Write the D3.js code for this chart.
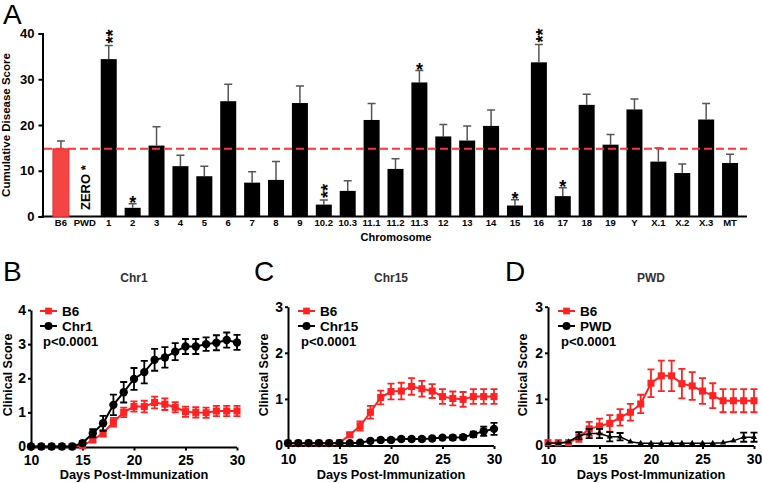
<!DOCTYPE html>
<html>
<head>
<meta charset="utf-8">
<script src="https://cdn.jsdelivr.net/npm/d3@7"></script>
<style>
  body { margin: 0; background: #fff; }
  svg { font-family: "Liberation Sans", Arial, sans-serif; }
  .tick text { font-weight: bold; }
</style>
</head>
<body>
<div id="viz"></div>
<script>
// Panel A data
const chromosomes = ['B6', 'PWD', '1', '2', '3', '4', '5', '6', '7', '8', '9', '10.2', '10.3', '11.1', '11.2',
  '11.3', '12', '13', '14', '15', '16', '17', '18', '19', 'Y', 'X.1', 'X.2', 'X.3', 'MT'];
const cumScore = [14.8, 0, 34.4, 1.9, 15.5, 11.0, 8.8, 25.2, 7.4, 8.0, 24.8, 2.6, 5.6, 21.1, 10.4,
  29.3, 17.5, 16.6, 19.8, 2.4, 33.7, 4.45, 24.4, 15.7, 23.4, 12.0, 9.5, 21.2, 11.7];
const cumSem = [1.7, 0, 3.0, 0.9, 4.1, 2.4, 2.2, 3.7, 2.4, 4.0, 3.7, 1.0, 2.2, 3.6, 2.2,
  2.6, 2.6, 3.2, 3.5, 1.25, 3.9, 1.85, 2.3, 2.2, 2.3, 3.0, 2.0, 3.5, 1.9];
const signif = ['', '', '**', '*', '', '', '', '', '', '', '', '**', '', '', '',
  '*', '', '', '', '*', '**', '*', '', '', '', '', '', '', ''];
const scoreTicks = [0, 10, 20, 30, 40];

// Panels B-D data
const days = [10, 11, 12, 13, 14, 15, 16, 17, 18, 19, 20, 21, 22, 23, 24, 25, 26, 27, 28, 29, 30];
const dayTicks = [10, 15, 20, 25, 30];

const b6B = [0, 0, 0, 0, 0, 0.02, 0.19, 0.39, 0.71, 1.0, 1.17, 1.17, 1.29, 1.24, 1.15, 1.02, 1.0, 0.99, 1.04, 1.04, 1.04];
const b6BErr = [0, 0, 0, 0, 0, 0, 0.06, 0.1, 0.13, 0.14, 0.15, 0.17, 0.17, 0.17, 0.15, 0.15, 0.15, 0.15, 0.15, 0.15, 0.15];
const chr1 = [0, 0, 0, 0, 0, 0.1, 0.39, 0.68, 1.22, 1.59, 1.98, 2.18, 2.54, 2.61, 2.78, 2.93, 2.93, 3.0, 3.04, 3.12, 3.05];
const chr1Err = [0, 0, 0, 0, 0, 0.05, 0.12, 0.22, 0.3, 0.3, 0.32, 0.33, 0.32, 0.3, 0.25, 0.22, 0.22, 0.2, 0.22, 0.22, 0.22];

const b6C = [0.04, 0.04, 0.04, 0.04, 0.04, 0.05, 0.22, 0.41, 0.71, 1.03, 1.16, 1.17, 1.27, 1.22, 1.17, 1.05, 1.01, 0.99, 1.05, 1.05, 1.05];
const b6CErr = [0, 0, 0, 0, 0, 0, 0.05, 0.1, 0.14, 0.15, 0.17, 0.18, 0.18, 0.17, 0.15, 0.16, 0.15, 0.16, 0.16, 0.16, 0.16];
const chr15 = [0.04, 0.04, 0.04, 0.04, 0.04, 0.04, 0.04, 0.05, 0.09, 0.11, 0.11, 0.13, 0.13, 0.13, 0.14, 0.16, 0.16, 0.17, 0.23, 0.3, 0.35];
const chr15Err = [0, 0, 0, 0, 0, 0, 0, 0.02, 0.03, 0.04, 0.04, 0.04, 0.04, 0.04, 0.04, 0.04, 0.05, 0.05, 0.06, 0.1, 0.13];

const b6D = [0.05, 0.05, 0.05, 0.17, 0.35, 0.41, 0.47, 0.6, 0.71, 0.89, 1.34, 1.5, 1.5, 1.33, 1.28, 1.17, 1.07, 0.96, 0.96, 0.96, 0.96];
const b6DErr = [0, 0, 0, 0.1, 0.15, 0.16, 0.18, 0.18, 0.18, 0.2, 0.3, 0.33, 0.33, 0.32, 0.3, 0.28, 0.27, 0.25, 0.25, 0.25, 0.25];
const pwd = [0.04, 0.04, 0.07, 0.2, 0.25, 0.25, 0.18, 0.18, 0.07, 0.04, 0.04, 0.04, 0.04, 0.04, 0.04, 0.04, 0.04, 0.05, 0.09, 0.17, 0.17];
const pwdErr = [0, 0, 0, 0.08, 0.1, 0.1, 0.1, 0.08, 0, 0, 0, 0, 0, 0, 0, 0, 0, 0, 0, 0.1, 0.1];

const width = 762;
const height = 483;
const red = '#f22';

const svg = d3.select('#viz')
  .append('svg')
    .attr('width', width)
    .attr('height', height)
    .attr('viewBox', `0 0 ${width} ${height}`);

// ---------- Panel A ----------
const xBand = d3.scaleBand()
  .domain(chromosomes)
  .range([49, 742])
  .paddingInner(0.33)
  .paddingOuter(0.165);
const yScore = d3.scaleLinear()
  .domain([0, 40])
  .range([216.5, 33.5]);
const cx = c => xBand(c) + xBand.bandwidth() / 2;

const barsA = svg.append('g').attr('class', 'panel-a');

barsA.append('text')
  .attr('x', 3).attr('y', 24)
  .style('font-size', '28px')
  .text('A');

const yAxisA = barsA.append('g')
  .attr('transform', 'translate(42.5,0)')
  .call(d3.axisLeft(yScore).tickValues(scoreTicks).tickSize(4).tickPadding(4));
yAxisA.selectAll('text').style('font-size', '13px').attr('fill', '#000');
yAxisA.selectAll('line, path').attr('stroke', '#000').attr('stroke-width', 2);

// x axis line
barsA.append('line')
  .attr('x1', 41.5).attr('x2', 747)
  .attr('y1', yScore(0)).attr('y2', yScore(0))
  .attr('stroke', '#000').attr('stroke-width', 2);

const data = chromosomes.map((c, i) => ({c, v: cumScore[i], e: cumSem[i], s: signif[i]}));

// error bars (upward)
const errG = barsA.append('g').attr('class', 'err');
errG.selectAll('path')
  .data(data.filter(d => d.v > 0))
  .join('path')
    .attr('d', d => `M${cx(d.c)},${yScore(d.v)}V${yScore(d.v + d.e)}M${cx(d.c) - 4},${yScore(d.v + d.e)}H${cx(d.c) + 4}`)
    .attr('fill', 'none')
    .attr('stroke', '#555').attr('stroke-width', 1.5);

barsA.append('g')
  .selectAll('rect')
  .data(data)
  .join('rect')
    .attr('x', d => xBand(d.c))
    .attr('y', d => yScore(d.v))
    .attr('width', xBand.bandwidth())
    .attr('height', d => yScore(0) - yScore(d.v))
    .attr('fill', d => d.c === 'B6' ? '#f44444' : '#000')
    .attr('stroke', d => d.c === 'B6' ? '#d33' : 'none');

// dashed reference at B6 level
barsA.append('line')
  .attr('x1', 44).attr('x2', 747)
  .attr('y1', yScore(cumScore[0])).attr('y2', yScore(cumScore[0]))
  .attr('stroke', '#f33').attr('stroke-width', 2)
  .attr('stroke-dasharray', '8,4');

// significance marks
data.filter(d => d.s === '*').forEach(d => {
  barsA.append('text')
    .attr('x', cx(d.c))
    .attr('y', yScore(d.v + d.e) + 5)
    .attr('text-anchor', 'middle')
    .style('font-size', '18px').style('font-weight', 'bold')
    .text('*');
});
data.filter(d => d.s === '**').forEach(d => {
  const x = cx(d.c) + 10.5;
  const y = yScore(d.v + d.e) - 2;
  barsA.append('text')
    .attr('transform', `translate(${x},${y}) rotate(-90)`)
    .style('font-size', '18px').style('font-weight', 'bold')
    .text('**');
});
barsA.append('text')
  .attr('transform', `translate(${cx('PWD') + 5},210) rotate(-90)`)
  .style('font-size', '13px').style('font-weight', 'bold')
  .text('ZERO *');

barsA.append('g')
  .selectAll('text')
  .data(chromosomes)
  .join('text')
    .attr('x', d => cx(d))
    .attr('y', 226)
    .attr('text-anchor', 'middle')
    .style('font-size', '9.5px').style('font-weight', 'bold')
    .text(d => d);

barsA.append('text')
  .attr('x', 396).attr('y', 241)
  .attr('text-anchor', 'middle')
  .style('font-size', '11px').style('font-weight', 'bold')
  .text('Chromosome');

barsA.append('text')
  .attr('transform', 'translate(10,125) rotate(-90)')
  .attr('text-anchor', 'middle')
  .style('font-size', '11.5px').style('font-weight', 'bold')
  .text('Cumulative Disease Score');

// ---------- Panels B-D ----------
function timeCourse(opt) {
  const g = svg.append('g');
  const x = d3.scaleLinear().domain([10, 30]).range(opt.xRange);
  const y = d3.scaleLinear().domain([0, opt.yMax]).range(opt.yRange);

  g.append('text')
    .attr('x', opt.letterX).attr('y', 281)
    .style('font-size', '28px')
    .text(opt.letter);
  g.append('text')
    .attr('x', (opt.xRange[0] + opt.xRange[1]) / 2).attr('y', 282)
    .attr('text-anchor', 'middle')
    .style('font-size', '12px').style('font-weight', 'bold').attr('fill', '#333')
    .text(opt.title);

  const xAxis = g.append('g')
    .attr('transform', `translate(0,${opt.yRange[0] + 1})`)
    .call(d3.axisBottom(x).tickValues(dayTicks).tickSize(3).tickPadding(5).tickSizeOuter(0));
  xAxis.select('path').attr('d', `M${opt.xRange[0] - 3},0H${opt.xRange[1]}`);
  const yAxis = g.append('g')
    .attr('transform', `translate(${opt.xRange[0]},0)`)
    .call(d3.axisLeft(y).ticks(opt.yMax).tickSize(3).tickPadding(2).tickSizeOuter(0));
  [xAxis, yAxis].forEach(a => {
    a.selectAll('text').style('font-size', '14px').attr('fill', '#000');
    a.selectAll('line, path').attr('stroke', '#000').attr('stroke-width', 2);
  });

  g.append('text')
    .attr('x', (opt.xRange[0] + opt.xRange[1]) / 2).attr('y', 479)
    .attr('text-anchor', 'middle')
    .style('font-size', '12.8px').style('font-weight', 'bold')
    .text('Days Post-Immunization');
  g.append('text')
    .attr('transform', `translate(${opt.yLabelX},375) rotate(-90)`)
    .attr('text-anchor', 'middle')
    .style('font-size', '12.5px').style('font-weight', 'bold')
    .text('Clinical Score');

  const line = d3.line().x((d, i) => x(days[i])).y(d => y(d));

  opt.series.forEach(s => {
    const sg = g.append('g');
    sg.append('path')
      .attr('d', line(s.values))
      .attr('fill', 'none')
      .attr('stroke', s.color)
      .attr('stroke-width', s.lineWidth || 2);
    const pts = s.values.map((v, i) => ({d: days[i], v, e: s.errors[i]})).filter(p => p.e > 0);
    sg.selectAll('path.eb')
      .data(pts)
      .join('path')
        .attr('d', p => {
          const px = x(p.d), y1 = y(p.v - p.e), y2 = y(p.v + p.e);
          return `M${px - 3.5},${y1}H${px + 3.5}M${px},${y1}V${y2}M${px - 3.5},${y2}H${px + 3.5}`;
        })
        .attr('fill', 'none')
        .attr('stroke', s.color)
        .attr('stroke-width', 1.8);
    const markers = sg.selectAll('path.mk')
      .data(s.values)
      .join('path')
        .attr('transform', (v, i) => `translate(${x(days[i])},${y(v)})`)
        .attr('fill', s.color);
    if (s.marker === 'square') markers.attr('d', d3.symbol(d3.symbolSquare, 50)());
    else if (s.marker === 'triangle') markers.attr('d', d3.symbol(d3.symbolTriangle, 16)());
    else markers.attr('d', d3.symbol(d3.symbolCircle, 55)());
  });

  // legend
  const lg = g.append('g');
  opt.series.forEach((s, i) => {
    const ly = 311 + i * 15;
    lg.append('line')
      .attr('x1', opt.legendX).attr('x2', opt.legendX + 17)
      .attr('y1', ly).attr('y2', ly)
      .attr('stroke', s.color).attr('stroke-width', 2);
    lg.append('path')
      .attr('transform', `translate(${opt.legendX + 8.5},${ly})`)
      .attr('d', s.marker === 'square' ? d3.symbol(d3.symbolSquare, 45)() : d3.symbol(d3.symbolCircle, 50)())
      .attr('fill', s.color);
    lg.append('text')
      .attr('x', opt.legendX + 22).attr('y', ly + 5)
      .style('font-size', '13.5px').style('font-weight', 'bold')
      .text(s.name);
  });
  lg.append('text')
    .attr('x', opt.legendX + 3).attr('y', 345.5)
    .style('font-size', '13px').style('font-weight', 'bold')
    .text('p<0.0001');
}

timeCourse({
  letter: 'B', letterX: 3, title: 'Chr1',
  xRange: [31, 237], yRange: [446.5, 310], yMax: 4, yLabelX: 12, legendX: 40,
  series: [
    {name: 'B6', values: b6B, errors: b6BErr, color: red, marker: 'square'},
    {name: 'Chr1', values: chr1, errors: chr1Err, color: '#000', marker: 'circle'}
  ]
});
timeCourse({
  letter: 'C', letterX: 254, title: 'Chr15',
  xRange: [288, 494], yRange: [445, 306.7], yMax: 3, yLabelX: 268, legendX: 298,
  series: [
    {name: 'B6', values: b6C, errors: b6CErr, color: red, marker: 'square'},
    {name: 'Chr15', values: chr15, errors: chr15Err, color: '#000', marker: 'circle'}
  ]
});
timeCourse({
  letter: 'D', letterX: 505, title: 'PWD',
  xRange: [548, 754], yRange: [445, 306.7], yMax: 3, yLabelX: 527, legendX: 558,
  series: [
    {name: 'B6', values: b6D, errors: b6DErr, color: red, marker: 'square'},
    {name: 'PWD', values: pwd, errors: pwdErr, color: '#000', marker: 'triangle', lineWidth: 1.5}
  ]
});
</script>
</body>
</html>
